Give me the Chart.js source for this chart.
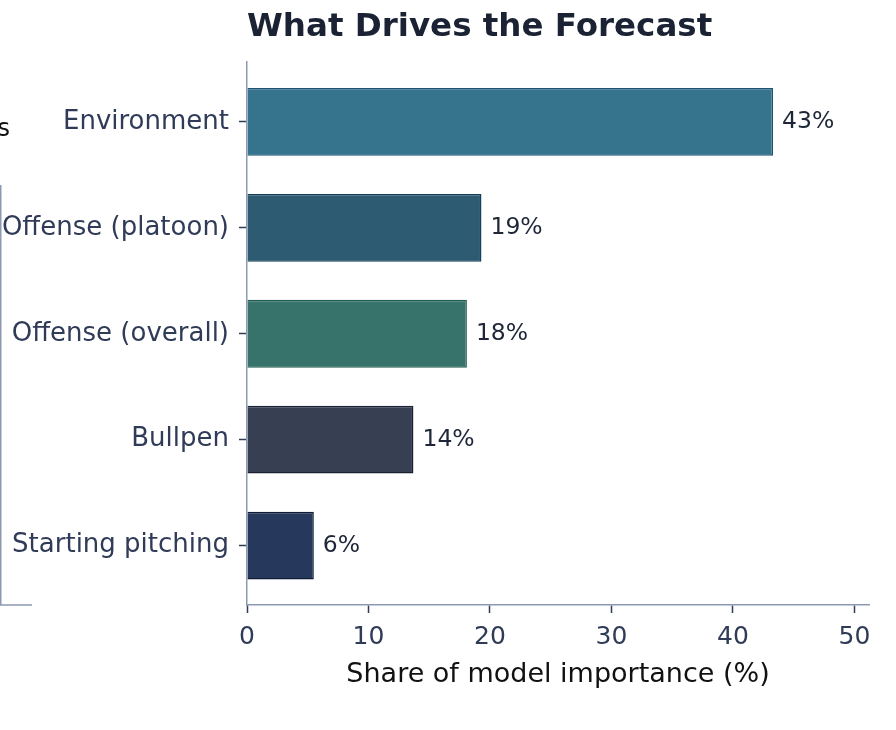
<!DOCTYPE html>
<html>
<head>
<meta charset="utf-8">
<script src="https://cdn.jsdelivr.net/npm/chart.js@4"></script>
<style>
  html, body { margin: 0; padding: 0; background: #ffffff; }
  #wrap { width: 896px; height: 730px; }
</style>
</head>
<body>
<div id="wrap"><canvas id="mainChart" width="896" height="730"></canvas></div>
<script>
// Chart data
const categories = ['Environment', 'Offense (platoon)', 'Offense (overall)', 'Bullpen', 'Starting pitching'];
const importance = [43.3, 19.3, 18.1, 13.7, 5.5];
const barColors = ['#36738d', '#2d5b71', '#37736b', '#373f52', '#26395c'];
const barBorders = ['#1a5575', '#133f5a', '#215e52', '#1b2033', '#101b36'];
const xTickStep = 10;

const FONT = 'DejaVu Sans';
const TICK_COLOR = '#2f3b57';
const AXIS_COLOR = '#8d99b2';

// Value labels at the end of each bar, plus the clipped frame on the far left
const barLabels = {
    id: 'barLabels',
    afterDatasetsDraw(chart) {
        const ctx = chart.ctx;
        const meta = chart.getDatasetMeta(0);
        ctx.save();
        ctx.font = `23.5px "${FONT}"`;
        ctx.fillStyle = '#1e2638';
        ctx.textAlign = 'left';
        ctx.textBaseline = 'middle';
        meta.data.forEach((bar, i) => {
            ctx.fillText(Math.round(importance[i]) + '%', bar.x + 9, bar.y);
        });
        ctx.restore();
    },
    afterDraw(chart) {
        const ctx = chart.ctx;
        const bottom = chart.chartArea.bottom;
        ctx.save();
        ctx.strokeStyle = AXIS_COLOR;
        ctx.lineWidth = 1.5;
        ctx.beginPath();
        ctx.moveTo(0.75, 185);
        ctx.lineTo(0.75, bottom);
        ctx.lineTo(32, bottom);
        ctx.stroke();
        ctx.font = `24px "${FONT}"`;
        ctx.fillStyle = '#111111';
        ctx.textAlign = 'right';
        ctx.textBaseline = 'middle';
        ctx.fillText('s', 10, 130);
        ctx.restore();
    }
};

const ctx = document.getElementById('mainChart').getContext('2d');
new Chart(ctx, {
    type: 'bar',
    data: {
        datasets: [{
            data: importance.map((v, i) => ({ x: v, y: i })),
            backgroundColor: barColors,
            borderColor: barBorders,
            borderWidth: 1.5,
            categoryPercentage: 1,
            barPercentage: 0.64
        }]
    },
    options: {
        indexAxis: 'y',
        responsive: false,
        animation: false,
        layout: { padding: { top: 0, right: 27, bottom: 42, left: 0 } },
        scales: {
            x: {
                type: 'linear',
                min: 0,
                max: 51.2,
                ticks: {
                    stepSize: xTickStep,
                    includeBounds: false,
                    color: TICK_COLOR,
                    padding: 9,
                    font: { family: FONT, size: 25 }
                },
                grid: {
                    drawOnChartArea: false,
                    tickLength: 8,
                    tickColor: '#2f3b57',
                    tickWidth: 1.5
                },
                border: { color: AXIS_COLOR, width: 1.5 },
                title: {
                    display: true,
                    text: 'Share of model importance (%)',
                    color: '#111111',
                    font: { family: FONT, size: 27, lineHeight: 1.0 },
                    padding: { top: 0, bottom: 0 }
                }
            },
            y: {
                type: 'linear',
                reverse: true,
                offset: false,
                min: -0.565,
                max: 4.56,
                afterBuildTicks: scale => {
                    scale.ticks = categories.map((_, i) => ({ value: i }));
                },
                afterFit: scale => {
                    scale.width = 247;
                },
                ticks: {
                    callback: value => categories[value],
                    color: TICK_COLOR,
                    padding: 10,
                    font: { family: FONT, size: 26 }
                },
                grid: {
                    offset: false,
                    drawOnChartArea: false,
                    tickLength: 8,
                    tickColor: '#2f3b57',
                    tickWidth: 1.5
                },
                border: { color: AXIS_COLOR, width: 1.5 }
            }
        },
        plugins: {
            legend: { display: false },
            tooltip: { enabled: false },
            title: {
                display: true,
                text: 'What Drives the Forecast',
                align: 'start',
                fullSize: false,
                color: '#1a2233',
                font: { family: FONT, size: 32.5, weight: 'bold' },
                padding: { top: 8, bottom: 15 }
            }
        }
    },
    plugins: [barLabels]
});
</script>
</body>
</html>
